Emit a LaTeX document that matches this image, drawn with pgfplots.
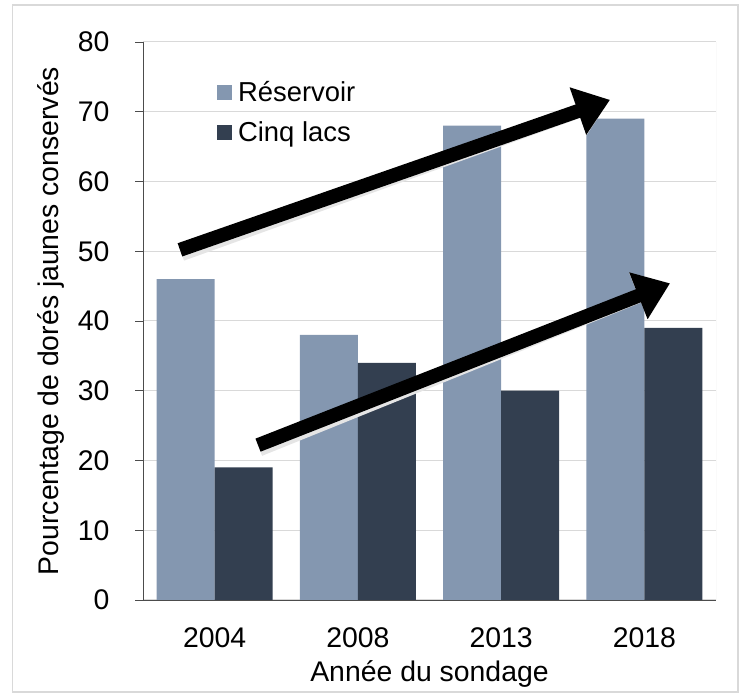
\documentclass[border=0pt]{standalone}
\usepackage{pgfplots}
\pgfplotsset{compat=1.18}
\usepackage{fontspec}
\setmainfont{Liberation Sans}
\usetikzlibrary{arrows.meta}
\definecolor{res}{RGB}{132,151,176}
\definecolor{cinq}{RGB}{51,63,80}
\definecolor{gridc}{RGB}{217,217,217}
\begin{document}
\fontsize{28}{33}\selectfont
\begin{tikzpicture}[x=1bp,y=1bp]
\path (0,0) rectangle (745,696);
\draw[gridc, line width=1.2bp] (12.5,4) rectangle (738,691);
\begin{axis}[
  at={(143bp,96bp)}, anchor=south west,
  scale only axis, width=573bp, height=558bp,
  xmin=-0.5, xmax=3.5, ymin=0, ymax=80,
  axis x line*=bottom, axis y line*=left,
  axis line style={black!70, line width=0.8bp},
  xtick={0,1,2,3}, xticklabels={2004,2008,2013,2018},
  major x tick style={draw=none},
  extra x ticks={-0.5,0.5,1.5,2.5,3.5}, extra x tick labels={},
  extra x tick style={tick align=outside, major tick length=8bp, tick style={black!70, line width=0.8bp}},
  ytick={0,10,...,80}, tick align=outside, major tick length=8bp,
  ytick style={black!70, line width=0.8bp},
  ymajorgrids, grid style={gridc, line width=1bp},
  /pgf/number format/assume math mode=true,
  tick label style={font=\fontsize{28.5}{33}\selectfont},
  xticklabel style={yshift=-10bp},
  yticklabel style={xshift=-16bp},
  xlabel={Année du sondage}, ylabel={Pourcentage de dorés jaunes conservés},
  label style={font=\fontsize{28.5}{33}\selectfont},
  xlabel style={yshift=22bp},
  ylabel style={yshift=-5bp},
  legend style={at={(0.129,0.934)}, anchor=north west, draw=none, fill=none,
    font=\fontsize{27.5}{33}\selectfont, row sep=12bp, inner sep=0pt,
    nodes={inner xsep=6bp}},
  legend cell align=left,
  legend image code/.code={\fill[#1] (0bp,-7bp) rectangle (15bp,8bp);},
]
\addplot[ybar, bar width=0.405, bar shift=-0.2025, fill=res, draw=none] coordinates {(0,46) (1,38) (2,68) (3,69)};
\addlegendentry{Réservoir}
\addplot[ybar, bar width=0.405, bar shift=0.2025, fill=cinq, draw=none] coordinates {(0,19) (1,34) (2,30) (3,39)};
\addlegendentry{Cinq lacs}
\draw[gridc, line width=1bp] (rel axis cs:1,0) -- (rel axis cs:1,1);
\draw[black!10, line width=14bp, -{Triangle[length=34bp,width=48bp]}] (axis cs:-0.23,49.6) -- (axis cs:2.76,71.7);
\draw[black!10, line width=14bp, -{Triangle[length=34bp,width=48bp]}] (axis cs:0.313,21.6) -- (axis cs:3.179,45.4);
\draw[black, line width=14bp, -{Triangle[length=34bp,width=48bp]}] (axis cs:-0.242,50.2) -- (axis cs:2.76,71.7);
\draw[black, line width=14bp, -{Triangle[length=34bp,width=48bp]}] (axis cs:0.303,22.2) -- (axis cs:3.179,45.4);
\end{axis}
\end{tikzpicture}
\end{document}
